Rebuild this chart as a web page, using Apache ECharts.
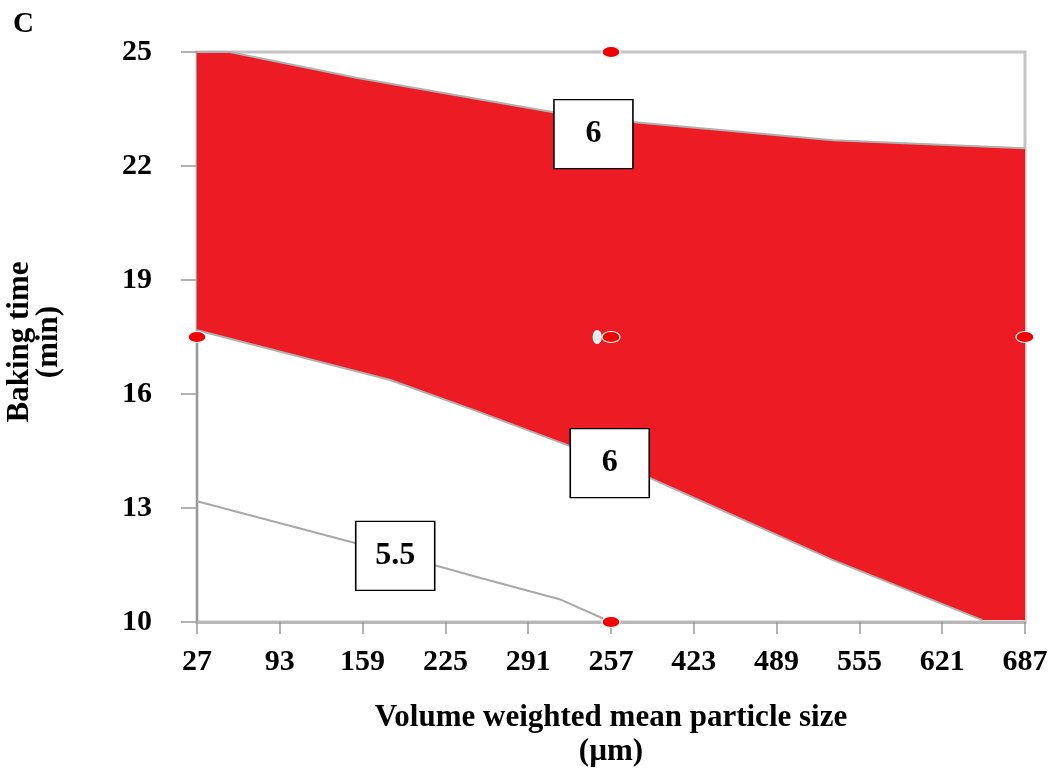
<!DOCTYPE html>
<html><head><meta charset="utf-8">
<script src="https://cdn.jsdelivr.net/npm/echarts@6/dist/echarts.min.js"></script>
<style>html,body{margin:0;padding:0;background:#fff}#c{width:1055px;height:769px}</style>
</head><body><div id="c"></div>
<script>
// ---- data ----
const xTickValues = [27, 93, 159, 225, 291, 357, 423, 489, 555, 621, 687];
const xTickLabels = ['27', '93', '159', '225', '291', '257', '423', '489', '555', '621', '687'];
const yTickValues = [10, 13, 16, 19, 22, 25];
const yTickLabels = ['10', '13', '16', '19', '22', '25'];

// red region (contour = 6 band), upper boundary left->right
const regionTopX = [27, 53, 154, 310, 374, 534, 687];
const regionTopY = [25, 25, 24.32, 23.42, 23.16, 22.68, 22.47];
// lower boundary right->left
const regionBottomX = [687, 653, 534, 386, 326, 250, 181, 27];
const regionBottomY = [10.05, 10.05, 11.63, 13.82, 14.61, 15.55, 16.37, 17.68];

// contour 5.5
const contour55X = [27, 153, 253, 316, 357];
const contour55Y = [13.18, 12.08, 11.16, 10.6, 10];

// design points
const designX = [27, 687, 357, 357, 357];
const designY = [17.5, 17.5, 25, 10, 17.5];
const replicateX = [346];
const replicateY = [17.5];

// contour labels
const labelText = ['6', '6', '5.5'];
const labelX = [343, 356, 185];
const labelY = [22.84, 14.18, 11.74];

// ---- chart ----
const FONT = '"Liberation Serif", "Times New Roman", serif';
const chart = echarts.init(document.getElementById('c'));

const topLine = regionTopX.map((x, i) => [x, regionTopY[i]]);
const bottomLine = regionBottomX.slice(1).map((x, i) => [x, regionBottomY[i + 1]]);

chart.setOption({
  animation: false,
  backgroundColor: '#fff',
  title: {
    text: 'C', left: 8, top: 5,
    textStyle: { fontFamily: FONT, fontSize: 29, fontWeight: 'bold', color: '#000' }
  },
  grid: {
    left: 197, right: 30, top: 52, bottom: 147,
    show: true, borderColor: '#c4c4c4', borderWidth: 3, backgroundColor: 'transparent'
  },
  xAxis: {
    type: 'value', min: 27, max: 687,
    axisLine: { show: true, lineStyle: { color: '#b8b8b8', width: 3 } },
    axisTick: { show: true, customValues: xTickValues, length: 12, lineStyle: { color: '#999', width: 1.5 } },
    axisLabel: {
      customValues: xTickValues,
      formatter: v => { const i = xTickValues.indexOf(v); return i >= 0 ? xTickLabels[i] : ''; },
      fontFamily: FONT, fontSize: 30, fontWeight: 'bold', color: '#000', margin: 25
    },
    splitLine: { show: false }
  },
  yAxis: {
    type: 'value', min: 10, max: 25,
    axisLine: { show: true, lineStyle: { color: '#999', width: 2 } },
    axisTick: { show: true, customValues: yTickValues, length: 16, lineStyle: { color: '#999', width: 1.5 } },
    axisLabel: {
      customValues: yTickValues,
      formatter: v => { const i = yTickValues.indexOf(v); return i >= 0 ? yTickLabels[i] : ''; },
      fontFamily: FONT, fontSize: 30, fontWeight: 'bold', color: '#000', margin: 45
    },
    splitLine: { show: false }
  },
  graphic: [
    { type: 'text', x: 611, y: 718, z: 10,
      style: { text: 'Volume weighted mean particle size', fontFamily: FONT, fontSize: 31, fontWeight: 'bold',
        fill: '#000', textAlign: 'center', textVerticalAlign: 'middle' } },
    { type: 'text', x: 611, y: 752, z: 10,
      style: { text: '(µm)', fontFamily: FONT, fontSize: 31, fontWeight: 'bold',
        fill: '#000', textAlign: 'center', textVerticalAlign: 'middle' } },
    { type: 'text', x: 20, y: 342, rotation: Math.PI / 2, z: 10,
      style: { text: 'Baking time', fontFamily: FONT, fontSize: 31, fontWeight: 'bold',
        fill: '#000', textAlign: 'center', textVerticalAlign: 'middle' } },
    { type: 'text', x: 49, y: 342, rotation: Math.PI / 2, z: 10,
      style: { text: '(min)', fontFamily: FONT, fontSize: 31, fontWeight: 'bold',
        fill: '#000', textAlign: 'center', textVerticalAlign: 'middle' } }
  ],
  series: [
    {
      type: 'custom', z: 1, clip: false, silent: true,
      data: [[27, 10]],
      renderItem: function (params, api) {
        const pts = [];
        regionTopX.forEach((x, i) => pts.push(api.coord([x, regionTopY[i]])));
        regionBottomX.forEach((x, i) => pts.push(api.coord([x, regionBottomY[i]])));
        return { type: 'polygon', shape: { points: pts }, style: { fill: '#ED1C24', stroke: null } };
      }
    },
    { type: 'line', z: 2, data: topLine, symbol: 'none', lineStyle: { color: '#b0b0b0', width: 2 } },
    { type: 'line', z: 2, data: bottomLine, symbol: 'none', lineStyle: { color: '#b0b0b0', width: 2 } },
    { type: 'line', z: 2, data: contour55X.map((x, i) => [x, contour55Y[i]]), symbol: 'none',
      lineStyle: { color: '#a8a8a8', width: 2 } },
    { type: 'scatter', z: 3, symbol: 'circle', symbolSize: [18, 11],
      data: designX.map((x, i) => [x, designY[i]]),
      itemStyle: { color: '#F00000', borderColor: '#fff', borderWidth: 1, opacity: 1 } },
    { type: 'scatter', z: 3, symbol: 'circle', symbolSize: [8, 12],
      data: replicateX.map((x, i) => [x, replicateY[i]]),
      itemStyle: { color: '#e8e8e8', borderColor: '#fff', borderWidth: 1.5, opacity: 1 } },
    { type: 'scatter', z: 4, symbol: 'rect', symbolSize: [79, 69],
      data: labelX.map((x, i) => ({ value: [x, labelY[i]], name: labelText[i] })),
      itemStyle: { color: '#fff', borderColor: '#000', borderWidth: 1.5, opacity: 1 },
      label: { show: true, position: 'inside', formatter: p => p.name,
        fontFamily: FONT, fontSize: 32, fontWeight: 'bold', color: '#000' } }
  ]
});
</script>
</body></html>
